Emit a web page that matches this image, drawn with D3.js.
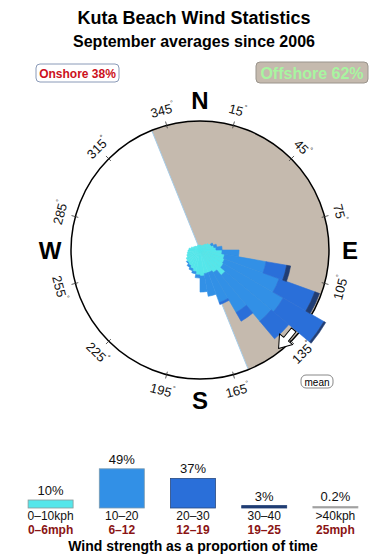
<!DOCTYPE html>
<html>
<head>
<meta charset="utf-8">
<script src="https://cdn.jsdelivr.net/npm/d3@7"></script>
<style>
  body { margin: 0; background: #fff; }
  svg { display: block; font-family: "Liberation Sans", Arial, sans-serif; }
</style>
</head>
<body>
<div class="chart"></div>
<script>
// direction bins (centre bearing, 10 degree wide)
const directions = [5, 15, 25, 35, 45, 55, 65, 75, 85, 95, 105, 115, 125, 135, 145, 155, 165, 175,
  185, 195, 205, 215, 225, 235, 245, 255, 265, 275, 285, 295, 305, 315, 325, 335, 345, 355];
// percent of time per direction, by wind speed class
const calm = [0.31, 0.25, 0.31, 0.38, 0.5, 0.63, 0.75, 0.88, 1.0, 1.38, 1.56, 1.63, 1.69, 2.06, 1.63, 1.5, 1.5, 1.63,
  1.56, 1.38, 1.25, 1.13, 1.06, 1.0, 0.88, 0.81, 0.75, 0.69, 0.56, 0.44, 0.38, 0.31, 0.31, 0.31, 0.31, 0.31];
const light = [0, 0, 0, 0, 0, 0, 0.13, 0.19, 0.38, 1.06, 2.63, 3.63, 4.31, 3.75, 2.88, 2.0, 1.44, 1.0,
  0.19, 0.13, 0.13, 0.13, 0.06, 0, 0, 0, 0, 0, 0, 0, 0, 0, 0, 0, 0, 0];
const moderate = [0, 0, 0, 0, 0, 0, 0, 0, 0, 0, 1.31, 2.38, 2.94, 1.44, 0.63, 0.13, 0, 0,
  0, 0, 0, 0, 0, 0, 0, 0, 0, 0, 0, 0, 0, 0, 0, 0, 0, 0];
const strong = [0, 0, 0, 0, 0, 0, 0, 0, 0, 0, 0.25, 0.31, 0.13, 0, 0, 0, 0, 0,
  0, 0, 0, 0, 0, 0, 0, 0, 0, 0, 0, 0, 0, 0, 0, 0, 0, 0];

const degreeTicks = [15, 45, 75, 105, 135, 165, 195, 225, 255, 285, 315, 345];
const cardinals = ['N', 'E', 'S', 'W'];
const cardinalAngles = [0, 90, 180, 270];
const offshore = [338, 158];
const meanDirection = 135;

const speedLabels = ['0–10kph', '10–20', '20–30', '30–40', '>40kph'];
const mphLabels = ['0–6mph', '6–12', '12–19', '19–25', '25mph'];
const shares = [10, 49, 37, 3, 0.2];

const classColors = ['#55e6ea', '#3290e6', '#2a6fd9', '#203d74', '#999999'];
const classBorders = ['#8a9a9a', '#7a9ab0', '#2a4a80', '#203d74', '#aaaaaa'];

const w = 390;
const h = 560;
const cx = 200;
const cy = 250;
const R = 129;
const rad = (d) => d * Math.PI / 180;

const svg = d3.select('.chart')
  .append('svg')
  .attr('width', w)
  .attr('height', h);

svg.append('text')
  .attr('x', 194).attr('y', 24)
  .attr('text-anchor', 'middle')
  .attr('font-size', 18).attr('font-weight', 'bold')
  .text('Kuta Beach Wind Statistics');
svg.append('text')
  .attr('x', 194).attr('y', 47)
  .attr('text-anchor', 'middle')
  .attr('font-size', 16).attr('font-weight', 'bold')
  .text('September averages since 2006');

// onshore / offshore boxes
svg.append('rect')
  .attr('x', 36).attr('y', 64).attr('width', 83).attr('height', 18).attr('rx', 4)
  .attr('fill', '#fff').attr('stroke', '#8a9ab8');
svg.append('text')
  .attr('x', 77.5).attr('y', 78)
  .attr('text-anchor', 'middle')
  .attr('font-size', 12).attr('font-weight', 'bold').attr('fill', '#cc1020')
  .text('Onshore 38%');
svg.append('rect')
  .attr('x', 256).attr('y', 62).attr('width', 112).attr('height', 21).attr('rx', 4)
  .attr('fill', '#c5baae').attr('stroke', '#9a948c');
svg.append('text')
  .attr('x', 312).attr('y', 78.5)
  .attr('text-anchor', 'middle')
  .attr('font-size', 16).attr('font-weight', 'bold').attr('fill', '#a8f5a0')
  .text('Offshore 62%');

const rose = svg.append('g')
  .attr('transform', `translate(${cx}, ${cy})`);

// offshore sector
rose.append('path')
  .attr('d', d3.arc()({
    innerRadius: 0,
    outerRadius: R,
    startAngle: rad(offshore[0] - 360),
    endAngle: rad(offshore[1])
  }))
  .attr('fill', '#c5baae');

rose.append('line')
  .attr('x1', R * Math.sin(rad(offshore[0]))).attr('y1', -R * Math.cos(rad(offshore[0])))
  .attr('x2', R * Math.sin(rad(offshore[1]))).attr('y2', -R * Math.cos(rad(offshore[1])))
  .attr('stroke', '#a6cce8').attr('stroke-width', 1);

rose.append('circle')
  .attr('r', R)
  .attr('fill', 'none')
  .attr('stroke', '#000')
  .attr('stroke-width', 1.5);

// stacked rose petals
const rows = directions.map((d, i) => ({
  dir: d, calm: calm[i], light: light[i], moderate: moderate[i], strong: strong[i]
}));
const keys = ['calm', 'light', 'moderate', 'strong'];
const stacked = d3.stack().keys(keys)(rows);
const rScale = d3.scaleLinear().domain([0, 10]).range([0, 160]);
const arc = d3.arc()
  .innerRadius((d) => rScale(d[0]))
  .outerRadius((d) => rScale(d[1]))
  .startAngle((d) => rad(d.data.dir - 5))
  .endAngle((d) => rad(d.data.dir + 5));

rose.selectAll('g.layer')
  .data(stacked)
  .enter()
  .append('g')
  .attr('class', 'layer')
  .attr('fill', (d, i) => classColors[i])
  .attr('stroke', (d, i) => classColors[i])
  .attr('stroke-width', 0.6)
  .attr('stroke-linejoin', 'round')
  .selectAll('path')
  .data((d) => d.filter((p) => p[1] > p[0]))
  .enter()
  .append('path')
  .attr('d', arc);

// degree ticks and labels
rose.selectAll('line.tick')
  .data(degreeTicks)
  .enter()
  .append('line')
  .attr('class', 'tick')
  .attr('x1', (d) => (R - 3) * Math.sin(rad(d)))
  .attr('y1', (d) => -(R - 3) * Math.cos(rad(d)))
  .attr('x2', (d) => (R + 4) * Math.sin(rad(d)))
  .attr('y2', (d) => -(R + 4) * Math.cos(rad(d)))
  .attr('stroke', '#333')
  .attr('stroke-width', 0.8);

const degLabels = rose.selectAll('text.deg')
  .data(degreeTicks)
  .enter()
  .append('text')
  .attr('class', 'deg')
  .attr('text-anchor', 'middle')
  .attr('dominant-baseline', 'central')
  .attr('font-size', 13)
  .attr('fill', '#111')
  .attr('transform', (d) => {
    const x = 145 * Math.sin(rad(d));
    const y = -145 * Math.cos(rad(d));
    const rot = (d < 90 || d > 270) ? d : d - 180;
    return `translate(${x}, ${y}) rotate(${rot})`;
  });
degLabels.append('tspan').text((d) => d);
degLabels.append('tspan').attr('font-size', 7).attr('dy', -5).text('°');

rose.selectAll('text.card')
  .data(cardinals)
  .enter()
  .append('text')
  .attr('class', 'card')
  .attr('x', (d, i) => 150 * Math.sin(rad(cardinalAngles[i])))
  .attr('y', (d, i) => -150 * Math.cos(rad(cardinalAngles[i])))
  .attr('text-anchor', 'middle')
  .attr('dominant-baseline', 'central')
  .attr('font-size', 24)
  .attr('font-weight', 'bold')
  .text((d) => d);

// mean direction arrow
const mx = 124 * Math.sin(rad(meanDirection + 1));
const my = -124 * Math.cos(rad(meanDirection + 1));
rose.append('polygon')
  .attr('points', '-12,-3 0,-3 0,-8.5 12,0 0,8.5 0,3 -12,3')
  .attr('transform', `translate(${mx}, ${my}) rotate(${meanDirection - 6})`)
  .attr('fill', '#fff')
  .attr('stroke', '#000')
  .attr('stroke-width', 1)
  .attr('stroke-linejoin', 'round');

svg.append('rect')
  .attr('x', 301).attr('y', 375).attr('width', 32).attr('height', 13).attr('rx', 5)
  .attr('fill', '#fff').attr('stroke', '#888');
svg.append('text')
  .attr('x', 317).attr('y', 385.5)
  .attr('text-anchor', 'middle')
  .attr('font-size', 10)
  .text('mean');

// speed legend bars
const xScale = d3.scalePoint()
  .domain(speedLabels)
  .range([15, 371])
  .padding(0.5);
const yScale = d3.scaleLinear()
  .domain([0, 50])
  .range([508, 468]);
const barW = 45;

const legend = svg.append('g');
legend.selectAll('rect')
  .data(shares)
  .enter()
  .append('rect')
  .attr('x', (d, i) => xScale(speedLabels[i]) - barW / 2)
  .attr('y', (d) => Math.min(yScale(d), 506.5))
  .attr('width', barW)
  .attr('height', (d) => Math.max(508 - yScale(d), 1.5))
  .attr('fill', (d, i) => classColors[i])
  .attr('stroke', (d, i) => classBorders[i])
  .attr('stroke-width', 0.8);

legend.selectAll('text.pct')
  .data(shares)
  .enter()
  .append('text')
  .attr('class', 'pct')
  .attr('x', (d, i) => xScale(speedLabels[i]))
  .attr('y', (d) => Math.min(yScale(d), 506) - 5)
  .attr('text-anchor', 'middle')
  .attr('font-size', 13)
  .attr('fill', '#111')
  .text((d) => `${d}%`);

legend.selectAll('text.kph')
  .data(speedLabels)
  .enter()
  .append('text')
  .attr('class', 'kph')
  .attr('x', (d) => xScale(d))
  .attr('y', 519.5)
  .attr('text-anchor', 'middle')
  .attr('font-size', 12)
  .attr('fill', '#111')
  .text((d) => d);

legend.selectAll('text.mph')
  .data(mphLabels)
  .enter()
  .append('text')
  .attr('class', 'mph')
  .attr('x', (d, i) => xScale(speedLabels[i]))
  .attr('y', 533.5)
  .attr('text-anchor', 'middle')
  .attr('font-size', 12)
  .attr('font-weight', 'bold')
  .attr('fill', '#8a1414')
  .text((d) => d);

svg.append('text')
  .attr('x', 193).attr('y', 551)
  .attr('text-anchor', 'middle')
  .attr('font-size', 14).attr('font-weight', 'bold')
  .text('Wind strength as a proportion of time');
</script>
</body>
</html>
